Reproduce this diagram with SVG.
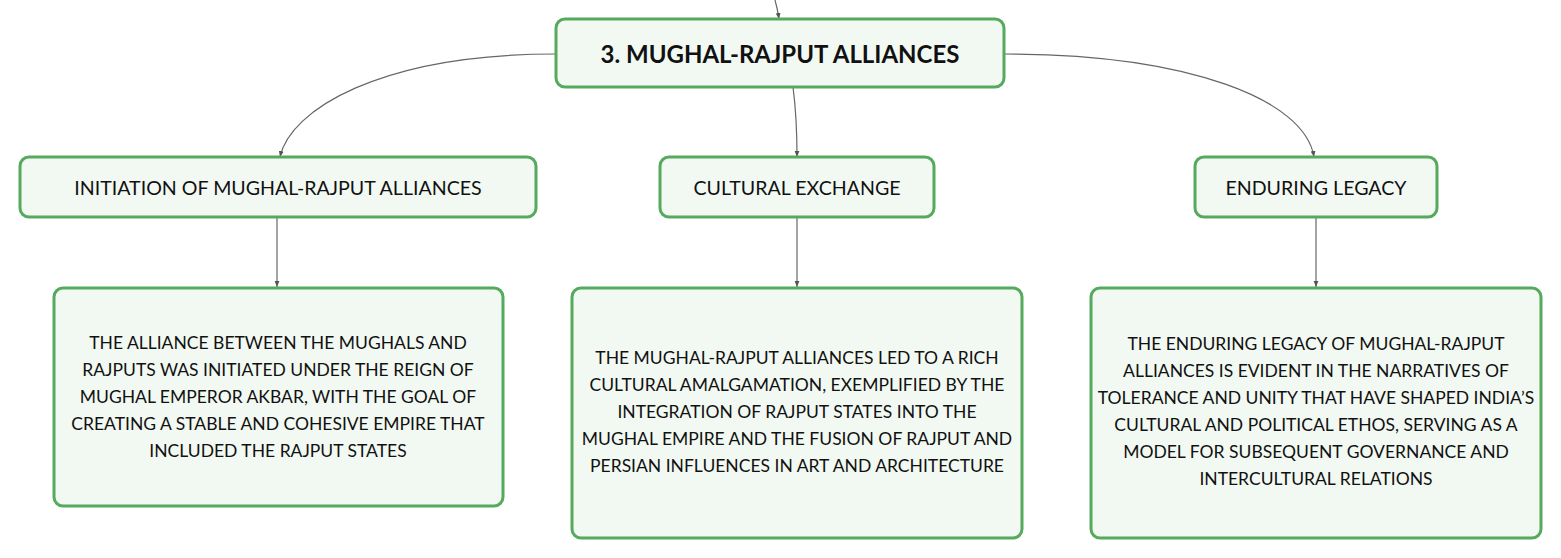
<svg xmlns="http://www.w3.org/2000/svg" width="1561" height="558" viewBox="0 0 1561 558">
<style>
.box{fill:#f2f9f3;stroke:#55aa5d;stroke-width:3}
.t{font-family:Lato,"Noto Sans",sans-serif;fill:#111;text-anchor:middle;dominant-baseline:central}
.title{font-size:24px;font-weight:bold}
.sub{font-size:19.6px}
.body{font-size:17.5px}
.edge{fill:none;stroke:#666;stroke-width:1.2;marker-end:url(#ah)}
</style>
<defs>
<marker id="ah" viewBox="0 0 10 10" refX="10" refY="5" markerWidth="6" markerHeight="6" markerUnits="userSpaceOnUse" orient="auto">
<path d="M0,1 L10,5 L0,9 z" fill="#555"/>
</marker>
</defs>
<rect width="1561" height="558" fill="#fff"/>
<g id="connectors">
<path class="edge" d="M775,0 C777,7 778,12 779,19"/>
<path class="edge" d="M556,54 C380,54 290,110 280,157"/>
<path class="edge" d="M793,87 C796,110 797,135 797,157"/>
<path class="edge" d="M1004,54 C1190,54 1305,100 1314,157"/>
<path class="edge" d="M277,217 L277,287"/>
<path class="edge" d="M797,217 L797,287"/>
<path class="edge" d="M1316,217 L1316,287"/>
</g>
<g id="root">
<rect class="box" x="556" y="19" width="448" height="68" rx="9"/>
<text class="t title" x="780" y="53">3. MUGHAL-RAJPUT ALLIANCES</text>
</g>
<g id="initiation">
<rect class="box" x="20" y="157" width="516" height="60" rx="9"/>
<text class="t sub" x="278" y="187">INITIATION OF MUGHAL-RAJPUT ALLIANCES</text>
</g>
<g id="cultural">
<rect class="box" x="660" y="157" width="274" height="60" rx="9"/>
<text class="t sub" x="797" y="187">CULTURAL EXCHANGE</text>
</g>
<g id="legacy">
<rect class="box" x="1195" y="157" width="242" height="60" rx="9"/>
<text class="t sub" x="1316" y="187">ENDURING LEGACY</text>
</g>
<g id="initiation-detail">
<rect class="box" x="54" y="288" width="449" height="218" rx="9"/>
<text class="t body" x="278" y="342">THE ALLIANCE BETWEEN THE MUGHALS AND</text>
<text class="t body" x="278" y="369">RAJPUTS WAS INITIATED UNDER THE REIGN OF</text>
<text class="t body" x="278" y="396">MUGHAL EMPEROR AKBAR, WITH THE GOAL OF</text>
<text class="t body" x="278" y="423">CREATING A STABLE AND COHESIVE EMPIRE THAT</text>
<text class="t body" x="278" y="450">INCLUDED THE RAJPUT STATES</text>
</g>
<g id="cultural-detail">
<rect class="box" x="572" y="288" width="450" height="250" rx="9"/>
<text class="t body" x="797" y="357">THE MUGHAL-RAJPUT ALLIANCES LED TO A RICH</text>
<text class="t body" x="797" y="384">CULTURAL AMALGAMATION, EXEMPLIFIED BY THE</text>
<text class="t body" x="797" y="411">INTEGRATION OF RAJPUT STATES INTO THE</text>
<text class="t body" x="797" y="438">MUGHAL EMPIRE AND THE FUSION OF RAJPUT AND</text>
<text class="t body" x="797" y="465">PERSIAN INFLUENCES IN ART AND ARCHITECTURE</text>
</g>
<g id="legacy-detail">
<rect class="box" x="1091" y="288" width="450" height="250" rx="9"/>
<text class="t body" x="1316" y="343">THE ENDURING LEGACY OF MUGHAL-RAJPUT</text>
<text class="t body" x="1316" y="370">ALLIANCES IS EVIDENT IN THE NARRATIVES OF</text>
<text class="t body" x="1316" y="397">TOLERANCE AND UNITY THAT HAVE SHAPED INDIA’S</text>
<text class="t body" x="1316" y="424">CULTURAL AND POLITICAL ETHOS, SERVING AS A</text>
<text class="t body" x="1316" y="451">MODEL FOR SUBSEQUENT GOVERNANCE AND</text>
<text class="t body" x="1316" y="478">INTERCULTURAL RELATIONS</text>
</g>
</svg>
